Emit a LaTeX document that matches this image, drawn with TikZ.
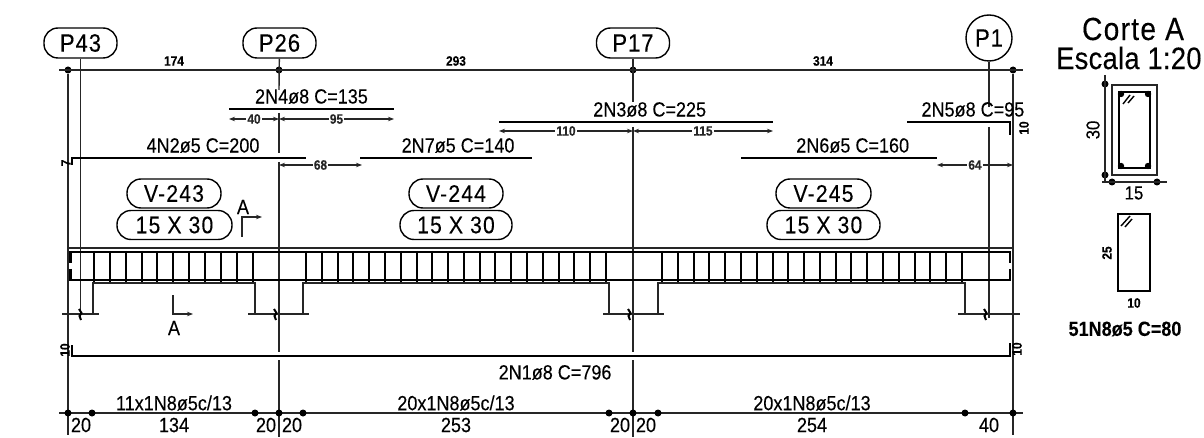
\documentclass[tikz,border=0pt]{standalone}
\usepackage{fontspec}
\setmainfont[FakeStretch=0.88, FakeBold=0.2]{Liberation Sans}
\usetikzlibrary{arrows.meta, positioning}

\begin{document}
\begin{tikzpicture}[
    x=1pt, y=-1pt,
    thin line/.style={line width=1.4pt, black!85},
    rebar/.style={line width=2.2pt},
    stirrup/.style={line width=2pt},
    dim/.style={line width=1.3pt, black!85, {Stealth[length=6pt,width=4.5pt]}-{Stealth[length=6pt,width=4.5pt]}},
    dimdot/.style={circle, fill=black, inner sep=0pt, minimum size=7pt},
    pillar/.style={draw, line width=1.4pt, rounded corners=14pt, minimum width=73pt, minimum height=30pt, inner sep=0pt, font=\fontsize{25}{25}\selectfont\addfontfeature{LetterSpace=4}},
    beam/.style={draw, line width=1.4pt, rounded corners=14pt, minimum height=29pt, inner sep=0pt, font=\fontsize{24}{24}\selectfont\addfontfeature{LetterSpace=5}},
    barlabel/.style={font=\fontsize{20.5}{20.5}\selectfont, inner sep=0pt},
    small/.style={font=\fontsize{13.5}{13.5}\selectfont\bfseries, inner sep=0pt},
    dimlabel/.style={small, fill=white, inner sep=1pt},
    big/.style={font=\fontsize{20.5}{20.5}\selectfont, inner sep=0pt}
]
    \useasboundingbox (0,0) rectangle (1204,438);

    % Pillars
    \node[pillar] (p43) at (80.5,43) {P43};
    \node[pillar] (p26) at (279.5,43) {P26};
    \node[pillar] (p17) at (633,43) {P17};
    \node[draw, circle, line width=1.4pt, minimum size=46pt, inner sep=0pt, font=\fontsize{25}{25}\selectfont\addfontfeature{LetterSpace=4}] (p1) at (989,38) {P1};

    % Top dimension line
    \coordinate (tl) at (59,70);
    \coordinate (tr) at (1023,70);
    \node[dimdot] (t1) at (68,70) {};
    \node[dimdot] (t2) at (279,70) {};
    \node[dimdot] (t3) at (633,70) {};
    \node[dimdot] (t4) at (1013,70) {};
    \draw[thin line] (tl) -- (tr);
    \node[small] (d174) at (174,61) {174};
    \node[small] (d293) at (456,61) {293};
    \node[small] (d314) at (823,61) {314};

    % Axis lines
    \coordinate (a1) at (68,435);
    \coordinate (a2) at (80.5,318);
    \coordinate (a3a) at (279,90);
    \coordinate (a3b) at (279,113);
    \coordinate (a3) at (279,153);
    \coordinate (a4) at (279,162);
    \coordinate (a5) at (279,352);
    \coordinate (a6) at (279,360);
    \coordinate (a7) at (279,437);
    \coordinate (a8a) at (633,102);
    \coordinate (a8b) at (633,127);
    \coordinate (a8) at (633,352);
    \coordinate (a9) at (633,360);
    \coordinate (a10) at (633,437);
    \coordinate (a11) at (989,107);
    \coordinate (a12) at (989,127);
    \coordinate (a13) at (989,318);
    \coordinate (a14) at (1013,435);
    \draw[thin line] (t1) -- (a1);
    \draw[thin line] (p43) -- (a2);
    \draw[thin line] (p26) -- (a3a);
    \draw[thin line] (a3b) -- (a3);
    \draw[thin line] (a4) -- (a5);
    \draw[thin line] (a6) -- (a7);
    \draw[thin line] (p17) -- (a8a);
    \draw[thin line] (a8b) -- (a8);
    \draw[thin line] (a9) -- (a10);
    \draw[thin line] (p1) -- (a11);
    \draw[thin line] (a12) -- (a13);
    \draw[thin line] (t4) -- (a14);

    % Top bars
    \coordinate (n4l) at (229,109);
    \coordinate (n4r) at (394,109);
    \draw[rebar] (n4l) -- node[barlabel, above=4pt] {2N4ø8 C=135} (n4r);
    \coordinate (n4a) at (229,119);
    \coordinate (n4b) at (279,119);
    \coordinate (n4c) at (394,119);
    \draw[dim] (n4a) -- node[dimlabel] {40} (n4b);
    \draw[dim] (n4b) -- node[dimlabel] {95} (n4c);

    \coordinate (n2h) at (72,165);
    \coordinate (n2l) at (72,158);
    \coordinate (n2r) at (306,158);
    \draw[rebar] (n2h) -- (n2l) -- node[barlabel, above=4pt, pos=0.56] {4N2ø5 C=200} (n2r);
    \node[small, rotate=90] (l7) at (66,163) {7};
    \coordinate (n2a) at (279,165);
    \coordinate (n2b) at (362,165);
    \draw[dim] (n2a) -- node[dimlabel] {68} (n2b);

    \coordinate (n7l) at (360,158);
    \coordinate (n7r) at (532,158);
    \draw[rebar] (n7l) -- node[barlabel, above=4pt, pos=0.57] {2N7ø5 C=140} (n7r);

    \coordinate (n3l) at (499,122);
    \coordinate (n3r) at (773,122);
    \draw[rebar] (n3l) -- node[barlabel, above=4pt, pos=0.55] {2N3ø8 C=225} (n3r);
    \coordinate (n3a) at (499,131);
    \coordinate (n3b) at (633,131);
    \coordinate (n3c) at (773,131);
    \draw[dim] (n3a) -- node[dimlabel] {110} (n3b);
    \draw[dim] (n3b) -- node[dimlabel] {115} (n3c);

    \coordinate (n6l) at (741,158);
    \coordinate (n6r) at (937,158);
    \draw[rebar] (n6l) -- node[barlabel, above=4pt, pos=0.57] {2N6ø5 C=160} (n6r);
    \coordinate (n6a) at (937,165);
    \coordinate (n6b) at (1013,165);
    \draw[dim] (n6a) -- node[dimlabel] {64} (n6b);

    \coordinate (n5l) at (907,122);
    \coordinate (n5r) at (1010,122);
    \coordinate (n5h) at (1010,135);
    \draw[rebar] (n5l) -- node[barlabel, above=4pt, pos=0.64] {2N5ø8 C=95} (n5r) -- (n5h);
    \node[small, rotate=90] (l10a) at (1024,128) {10};

    % Beam names
    \node[beam, minimum width=94pt] (v243) at (174,193.5) {V-243};
    \node[beam, minimum width=115pt] (s243) at (174.5,225) {15 X 30};
    \node[beam, minimum width=94pt] (v244) at (456,193.5) {V-244};
    \node[beam, minimum width=112pt] (s244) at (456,225) {15 X 30};
    \node[beam, minimum width=95pt] (v245) at (823.5,193.5) {V-245};
    \node[beam, minimum width=113pt] (s245) at (823.5,225) {15 X 30};

    % Section marks
    \node[big] (ma) at (243,207) {A};
    \node[big] (mb) at (174,328) {A};
    \coordinate (ma1) at (242,237);
    \coordinate (ma2) at (242,217);
    \coordinate (ma3) at (262,217);
    \coordinate (mb1) at (173,295);
    \coordinate (mb2) at (173,314);
    \coordinate (mb3) at (193,314);
    \draw[thin line, -{Stealth[length=6pt,width=4.5pt]}] (ma1) -- (ma2) -- (ma3);
    \draw[thin line, -{Stealth[length=6pt,width=4.5pt]}] (mb1) -- (mb2) -- (mb3);

    % Beam elevation
    \draw[thin line] (68,248) -- (1013,248);
    \draw[rebar] (70.5,263) -- (70.5,252) -- (1010,252) -- (1010,263);
    \draw[rebar] (70.5,269) -- (70.5,280) -- (1010,280) -- (1010,269);
    \foreach \i in {0,...,10} \draw[stirrup] ({94+15.87*\i},251) -- ({94+15.87*\i},282);
    \foreach \i in {0,...,19} \draw[stirrup] ({306+15.79*\i},251) -- ({306+15.79*\i},282);
    \foreach \i in {0,...,19} \draw[stirrup] ({662+15.79*\i},251) -- ({662+15.79*\i},282);
    \draw[thin line] (62,314) -- (99,314);
    \draw[thin line] (93,314) -- (93,283) -- (255,283) -- (255,314);
    \draw[thin line] (248,314) -- (309,314);
    \draw[thin line] (303,314) -- (303,283) -- (609,283) -- (609,314);
    \draw[thin line] (603,314) -- (664,314);
    \draw[thin line] (658,314) -- (658,283) -- (965,283) -- (965,314);
    \draw[thin line] (958,314) -- (1020,314);
    \foreach \x in {80,275,629,985}
        \draw[stirrup] (\x-1,309) -- (\x+1.5,313) -- (\x-0.5,316) -- (\x+1,320);

    % Bottom bar
    \coordinate (n1a) at (72,345);
    \coordinate (n1b) at (72,356);
    \coordinate (n1c) at (1010,356);
    \coordinate (n1d) at (1010,343);
    \draw[rebar] (n1a) -- (n1b) -- node[barlabel, below=8pt, pos=0.515] {2N1ø8 C=796} (n1c) -- (n1d);
    \node[small, rotate=90] (l10b) at (65,350) {10};
    \node[small, rotate=90] (l10c) at (1017,349) {10};

    % Bottom dimension line
    \coordinate (bl) at (59,413);
    \coordinate (br) at (1023,413);
    \draw[thin line] (bl) -- (br);
    \foreach \x/\name in {68/b1,92/b2,255/b3,279/b4,303/b5,609/b6,633/b7,658/b8,965/b9,1013/b10}
        \node[dimdot] (\name) at (\x,413) {};
    \node[big] (r1) at (174,403) {11x1N8ø5c/13};
    \node[big] (r2) at (456,403) {20x1N8ø5c/13};
    \node[big] (r3) at (812,403) {20x1N8ø5c/13};
    \node[big] (w1) at (81,425) {20};
    \node[big] (w2) at (174,425) {134};
    \node[big] (w3) at (266,425) {20};
    \node[big] (w4) at (292,425) {20};
    \node[big] (w5) at (456,425) {253};
    \node[big] (w6) at (620,425) {20};
    \node[big] (w7) at (646,425) {20};
    \node[big] (w8) at (812,425) {254};
    \node[big] (w9) at (989,425) {40};

    % Section A
    \node[font=\fontsize{32}{32}\selectfont\addfontfeature{LetterSpace=4}, inner sep=0pt] (corte) at (1133,29) {Corte A};
    \node[font=\fontsize{31}{31}\selectfont\addfontfeature{LetterSpace=1}, inner sep=0pt, anchor=west] (escala) at (1056,58) {Escala 1:20};
    \node[draw, line width=1.4pt, black!85, minimum width=45pt, minimum height=90pt, inner sep=0pt] (outer) at (1134.5,130) {};
    \node[draw, line width=2.4pt, minimum width=31pt, minimum height=76pt, inner sep=0pt] (inner) at (1134.5,130) {};
    \foreach \x/\y in {1121/94,1148/94,1121/166,1148/166}
        \fill (\x,\y) circle (3.2pt);
    \draw[line width=1.4pt] (1123,104) -- (1130,95);
    \draw[line width=1.4pt] (1128,103) -- (1134,96);

    \coordinate (s1) at (1105,75);
    \coordinate (s2) at (1105,182);
    \node[dimdot] (s3) at (1105,84) {};
    \node[dimdot] (s4) at (1105,175) {};
    \draw[thin line] (s1) -- (s2);
    \node[big, font=\fontsize{19}{19}\selectfont, rotate=90] (l30) at (1093,130) {30};
    \coordinate (s5) at (1102,182);
    \coordinate (s6) at (1167,182);
    \node[dimdot] (s7) at (1112,182) {};
    \node[dimdot] (s8) at (1157,182) {};
    \draw[thin line] (s5) -- (s6);
    \node[big, font=\fontsize{19}{19}\selectfont] (l15) at (1134,193) {15};

    % Stirrup detail
    \node[draw, line width=2pt, minimum width=32pt, minimum height=77pt, inner sep=0pt] (stir) at (1134,252.5) {};
    \draw[line width=1.4pt] (1121,226) -- (1130,216);
    \draw[line width=1.4pt] (1125,227) -- (1132,219);
    \node[small, rotate=90] (l25) at (1107,253) {25};
    \node[small] (l10d) at (1134,303) {10};
    \node[font=\fontsize{20.5}{20.5}\selectfont\bfseries, inner sep=0pt] (l51) at (1125,329) {51N8ø5 C=80};
\end{tikzpicture}
\end{document}
